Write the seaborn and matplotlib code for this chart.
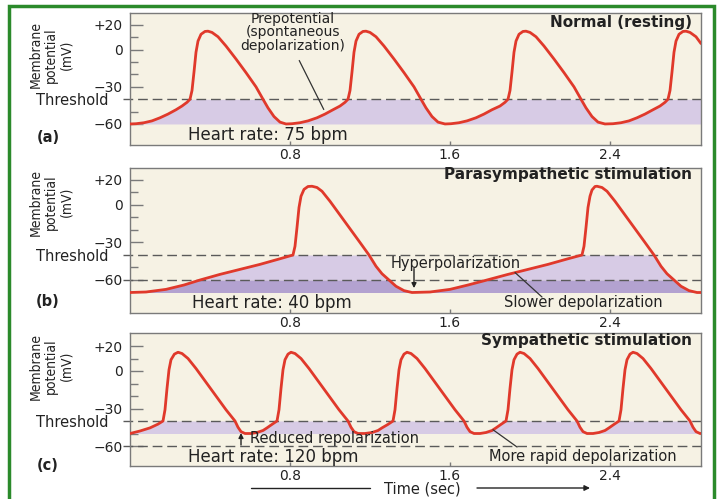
import numpy as np
import pandas as pd
import matplotlib
matplotlib.use("Agg")
import matplotlib.pyplot as plt
import seaborn as sns
from matplotlib.patches import Rectangle
from matplotlib.lines import Line2D

sns.set_style("white")
plt.rcParams['font.family'] = ['DejaVu Sans']

# ---------------- data (time in s, membrane potential in mV) ----------------
normal_points = [
    (0.00, -60), (0.03, -59.8), (0.07, -59), (0.11, -57.5), (0.15, -55), (0.19, -52), (0.23, -48.5),
    (0.26, -45.5), (0.285, -42.5), (0.30, -40), (0.31, -33), (0.32, -18), (0.33, -2), (0.34, 7),
    (0.355, 12.5), (0.375, 14.8), (0.39, 15), (0.41, 14), (0.44, 10.5), (0.48, 3), (0.53, -7.5),
    (0.58, -18.5), (0.63, -30), (0.665, -40), (0.69, -47), (0.72, -54), (0.75, -58.5), (0.78, -60),
    (0.81, -59.8), (0.85, -59), (0.89, -57.5), (0.935, -55), (0.975, -52), (1.015, -48.5), (1.05, -45.5),
    (1.075, -42.5), (1.09, -40), (1.10, -33), (1.11, -18), (1.12, -2), (1.13, 7), (1.145, 12.5),
    (1.165, 14.8), (1.18, 15), (1.20, 14), (1.23, 10.5), (1.27, 3), (1.32, -7.5), (1.37, -18.5),
    (1.42, -30), (1.455, -40), (1.48, -47), (1.51, -54), (1.54, -58.5), (1.575, -60),
    (1.605, -59.8), (1.645, -59), (1.685, -57.5), (1.73, -55), (1.77, -52), (1.81, -48.5), (1.85, -45.5),
    (1.875, -42.5), (1.89, -40), (1.90, -33), (1.91, -18), (1.92, -2), (1.93, 7), (1.945, 12.5),
    (1.965, 14.8), (1.98, 15), (2.00, 14), (2.03, 10.5), (2.07, 3), (2.12, -7.5), (2.17, -18.5),
    (2.22, -30), (2.255, -40), (2.28, -47), (2.31, -54), (2.34, -58.5), (2.375, -60),
    (2.415, -59.8), (2.455, -59), (2.495, -57.5), (2.535, -55), (2.575, -52), (2.615, -48.5),
    (2.65, -45.5), (2.675, -42.5), (2.69, -40), (2.70, -33), (2.71, -18), (2.72, -2), (2.73, 7),
    (2.745, 12.5), (2.765, 14.8), (2.78, 15), (2.80, 14), (2.83, 10.5), (2.855, 5),
]

para_points = [
    (0.00, -70), (0.08, -69.6), (0.18, -67.5), (0.27, -64), (0.35, -60), (0.45, -55.5), (0.55, -51.5),
    (0.65, -47.5), (0.75, -43), (0.815, -40), (0.825, -33), (0.835, -18), (0.845, -2), (0.855, 7),
    (0.87, 12.5), (0.89, 14.8), (0.91, 15), (0.935, 14), (0.96, 11), (1.00, 3), (1.05, -8), (1.10, -19),
    (1.15, -30), (1.195, -40), (1.23, -49), (1.26, -55), (1.295, -60), (1.33, -65), (1.37, -68.5),
    (1.41, -70), (1.50, -69.6), (1.60, -67.5), (1.69, -64), (1.785, -60), (1.89, -55.5), (1.99, -51.5),
    (2.09, -47.5), (2.19, -43), (2.26, -40), (2.27, -33), (2.28, -18), (2.29, -2), (2.30, 7),
    (2.31, 12), (2.325, 14.8), (2.335, 15), (2.36, 14), (2.385, 11), (2.425, 3), (2.475, -8),
    (2.525, -19), (2.575, -30), (2.62, -40), (2.655, -49), (2.685, -55), (2.72, -60), (2.755, -65),
    (2.795, -68.5), (2.835, -70), (2.855, -70),
]

symp_points = [
    (0.000, -50), (0.050, -48), (0.100, -45.5), (0.140, -42.5), (0.165, -40),
    (0.175, -31), (0.185, -14), (0.195, 1), (0.205, 9), (0.222, 13.5), (0.240, 15),
    (0.26, 14), (0.29, 10), (0.33, 2), (0.38, -9), (0.43, -20), (0.48, -31), (0.525, -40),
    (0.54, -45), (0.555, -48.5), (0.575, -50),
    (0.605, -50), (0.635, -49.2), (0.665, -47.6), (0.685, -45.5), (0.71, -42.7), (0.735, -40),
    (0.745, -31), (0.755, -14), (0.765, 1), (0.775, 9), (0.79, 13.5), (0.805, 15),
    (0.825, 14), (0.855, 10), (0.895, 2), (0.945, -9), (0.995, -20), (1.045, -31), (1.09, -40),
    (1.105, -45), (1.12, -48.5), (1.14, -50),
    (1.175, -50), (1.21, -49.2), (1.24, -47.6), (1.26, -45.5), (1.29, -42.7), (1.315, -40),
    (1.325, -31), (1.335, -14), (1.345, 1), (1.355, 9), (1.37, 13.5), (1.385, 15),
    (1.405, 14), (1.435, 10), (1.475, 2), (1.525, -9), (1.575, -20), (1.625, -31), (1.67, -40),
    (1.685, -45), (1.70, -48.5), (1.72, -50),
    (1.75, -50), (1.78, -49.2), (1.81, -47.6), (1.83, -45.5), (1.855, -42.7), (1.88, -40),
    (1.89, -31), (1.90, -14), (1.91, 1), (1.92, 9), (1.935, 13.5), (1.95, 15),
    (1.97, 14), (2.00, 10), (2.04, 2), (2.09, -9), (2.14, -20), (2.19, -31), (2.235, -40),
    (2.25, -45), (2.265, -48.5), (2.285, -50),
    (2.315, -50), (2.345, -49.2), (2.375, -47.6), (2.395, -45.5), (2.42, -42.7), (2.445, -40),
    (2.455, -31), (2.465, -14), (2.475, 1), (2.485, 9), (2.50, 13.5), (2.515, 15),
    (2.535, 14), (2.565, 10), (2.605, 2), (2.655, -9), (2.705, -20), (2.755, -31), (2.80, -40),
    (2.815, -45), (2.83, -48.5), (2.85, -50), (2.855, -50),
]

panel_titles = ["Normal (resting)", "Parasympathetic stimulation", "Sympathetic stimulation"]
heart_rates = ["Heart rate: 75 bpm", "Heart rate: 40 bpm", "Heart rate: 120 bpm"]
panel_letters = ["(a)", "(b)", "(c)"]
ytick_values = [20, 0, -30, -60]
ytick_labels = ["+20", "0", "\u221230", "\u221260"]
yminor_values = [10, -10, -20, -50]
xtick_values = [0.8, 1.6, 2.4]
xtick_labels = ["0.8", "1.6", "2.4"]
threshold_mv = -40

# ---------------- style ----------------
CREAM = "#f6f2e4"
LIGHT = "#d7cbe5"
DARK = "#b3a2d0"
RED = "#e0392b"
TXT = "#222222"
SPINE = "#7a7a7a"
GREEN = "#2b8a2b"

W, H = 717, 499
fig = plt.figure(figsize=(7.17, 4.99), dpi=100)
fig.patch.set_facecolor("white")


def fx(px):
    return px / W


def fy(py):
    return 1 - py / H


# (top px, bottom px, ylim)
layout = [
    (13, 145, (-77, 29.7)),
    (168, 313, (-86.4, 29.6)),
    (333, 466, (-76, 30.4)),
]
point_sets = [normal_points, para_points, symp_points]
axes = []
for i, (top, bot, ylim) in enumerate(layout):
    ax = fig.add_axes([fx(130), fy(bot), fx(701) - fx(130), (bot - top) / H])
    ax.set_facecolor(CREAM)
    df = pd.DataFrame(point_sets[i], columns=["t", "mv"])
    t = df["t"].to_numpy()
    v = df["mv"].to_numpy()

    # shaded regions below the curve, up to threshold
    if i == 0:
        ax.fill_between(t, -60, np.clip(v, -60, threshold_mv), color=LIGHT, lw=0, zorder=1)
    elif i == 1:
        ax.fill_between(t, -60, np.clip(v, -60, threshold_mv), color=LIGHT, lw=0, zorder=1)
        ax.fill_between(t, -70, np.clip(v, -70, -60), color=DARK, lw=0, zorder=1)
    else:
        ax.fill_between(t, -50, np.clip(v, -50, threshold_mv), color=LIGHT, lw=0, zorder=1)

    # dashed reference lines
    ytr = ax.get_yaxis_transform()
    dash_levels = [threshold_mv] if i == 0 else [threshold_mv, -60]
    for lvl in dash_levels:
        ax.plot([-0.012, 1.0], [lvl, lvl], transform=ytr, clip_on=False,
                color="#5a5a5a", lw=1.0, ls=(0, (7, 3.5)), zorder=2)

    sns.lineplot(data=df, x="t", y="mv", ax=ax, color=RED, lw=2.0,
                 estimator=None, sort=False, zorder=3)

    ax.set_xlim(0, 2.855)
    ax.set_ylim(*ylim)
    ax.set_xlabel("")
    ax.set_ylabel("")
    ax.set_yticks(ytick_values)
    ax.set_yticklabels(ytick_labels)
    ax.set_yticks(yminor_values, minor=True)
    ax.set_xticks(xtick_values)
    ax.set_xticklabels(xtick_labels)
    ax.tick_params(axis="y", which="major", direction="in", left=True, length=9, width=1,
                   color=SPINE, labelsize=10, labelcolor=TXT, pad=5)
    ax.tick_params(axis="y", which="minor", direction="in", left=True, length=6, width=1,
                   color=SPINE)
    ax.tick_params(axis="x", which="major", direction="in", bottom=True, length=3, width=1,
                   color=SPINE, labelsize=10, labelcolor=TXT, pad=2)
    for s in ax.spines.values():
        s.set_color(SPINE)
        s.set_linewidth(1.0)

    ax.text(-0.0385, threshold_mv - 1.0, "Threshold", transform=ytr, ha="right", va="center",
            fontsize=10.5, color=TXT)
    ax.text(2.81, 24 if i else 22.4, panel_titles[i], ha="right", va="center",
            fontsize=11, fontweight="bold", color=TXT)
    hr_y = [-68.9, -78.4, -68.8][i]
    ax.text([0.29, 0.31, 0.29][i], hr_y, heart_rates[i], ha="left", va="center",
            fontsize=12, color=TXT)
    axes.append(ax)

# y labels and panel letters
for cy in [55, 202, 366]:
    fig.text(fx(51), fy(cy), "Membrane\npotential\n(mV)", rotation=90, ha="center", va="center",
             fontsize=10, linespacing=1.15, color=TXT, family="DejaVu Sans",
             fontstretch="condensed")
for ly, lab in zip([138, 301, 465], panel_letters):
    fig.text(fx(48), fy(ly), lab, ha="center", va="center", fontsize=10.5,
             fontweight="bold", color=TXT)

# annotations
ax_a, ax_b, ax_c = axes
ax_a.text(0.815, 14.3, "Prepotential\n(spontaneous\ndepolarization)", ha="center", va="center",
          fontsize=10, linespacing=0.95, color=TXT)
ax_a.annotate("", xy=(0.975, -50.3), xytext=(0.84, -6.7),
              arrowprops=dict(arrowstyle="-", color="#333", lw=0.9))

ax_b.text(1.63, -47.2, "Hyperpolarization", ha="center", va="center", fontsize=10.5, color=TXT)
ax_b.annotate("", xy=(1.42, -66.5), xytext=(1.42, -50.8),
              arrowprops=dict(arrowstyle="-|>", color="#222", lw=1.0, mutation_scale=7,
                              shrinkA=0, shrinkB=0))
ax_b.text(2.265, -78.4, "Slower depolarization", ha="center", va="center", fontsize=10.5, color=TXT)
ax_b.annotate("", xy=(1.925, -54), xytext=(2.06, -73.6),
              arrowprops=dict(arrowstyle="-", color="#333", lw=0.9, shrinkA=0, shrinkB=0))

ax_c.text(0.60, -54.4, "Reduced repolarization", ha="left", va="center", fontsize=10.5, color=TXT)
ax_c.annotate("", xy=(0.555, -49.6), xytext=(0.555, -59.2),
              arrowprops=dict(arrowstyle="-|>", color="#222", lw=1.0, mutation_scale=7,
                              shrinkA=0, shrinkB=0))
ax_c.text(2.265, -68, "More rapid depolarization", ha="center", va="center", fontsize=10.5, color=TXT)
ax_c.annotate("", xy=(1.815, -47), xytext=(1.935, -60.8),
              arrowprops=dict(arrowstyle="-", color="#333", lw=0.9, shrinkA=0, shrinkB=0))

# time axis label with arrow
fig.add_artist(Line2D([fx(251), fx(370)], [fy(488), fy(488)], transform=fig.transFigure,
                      color="#222", lw=1.0))
fig.text(fx(422), fy(489), "Time (sec)", ha="center", va="center", fontsize=10.5, color=TXT)
ax_c.annotate("", xy=(fx(590), fy(488)), xytext=(fx(477), fy(488)),
              xycoords="figure fraction", textcoords="figure fraction", annotation_clip=False,
              arrowprops=dict(arrowstyle="-|>", color="#222", lw=1.0, mutation_scale=8,
                              shrinkA=0, shrinkB=0))

# green frame
fig.add_artist(Rectangle((fx(9), -0.05), fx(714) - fx(9), fy(6) + 0.05, transform=fig.transFigure,
                         fill=False, ec=GREEN, lw=2.5, clip_on=False))

fig.savefig("out.png", dpi=100)
